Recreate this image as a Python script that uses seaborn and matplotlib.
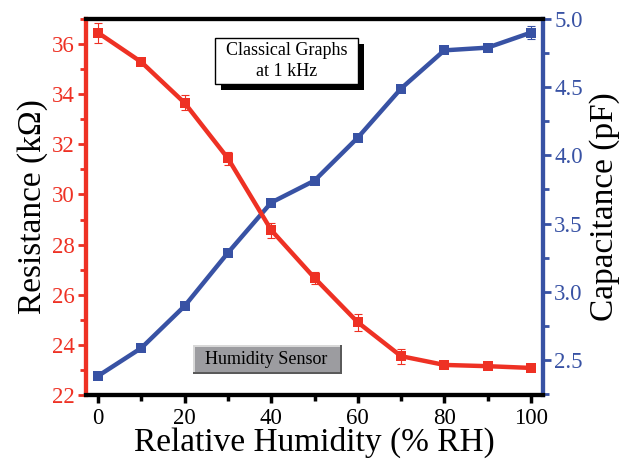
import matplotlib
matplotlib.use("Agg")
import matplotlib.pyplot as plt
import seaborn as sns
import pandas as pd
from matplotlib.patches import Rectangle
from matplotlib.ticker import MultipleLocator

humidity = [0, 10, 20, 30, 40, 50, 60, 70, 80, 90, 100]
resistance = [36.45, 35.28, 33.65, 31.44, 28.58, 26.67, 24.9, 23.55, 23.2, 23.15, 23.08]
resistance_err = [0.4, 0.08, 0.3, 0.25, 0.3, 0.25, 0.35, 0.3, 0.08, 0.08, 0.08]
capacitance = [2.383, 2.588, 2.896, 3.286, 3.654, 3.815, 4.13, 4.49, 4.77, 4.79, 4.9]
capacitance_err = [0.01, 0.01, 0.01, 0.01, 0.01, 0.01, 0.01, 0.01, 0.01, 0.01, 0.05]

RED = "#EE3124"
BLUE = "#3852A4"

sns.set_theme(style="white")
plt.rcParams["font.family"] = ["Liberation Serif", "DejaVu Serif"]
plt.rcParams["mathtext.fontset"] = "stix"

df = pd.DataFrame({"RH": humidity, "R": resistance, "C": capacitance})

fig = plt.figure(figsize=(6.25, 4.62), dpi=100)
ax = fig.add_axes([0.1376, 0.145, 0.8688 - 0.1376, 0.9589 - 0.145])
ax2 = ax.twinx()

sns.lineplot(data=df, x="RH", y="C", ax=ax2, color=BLUE, lw=3.2,
             marker="s", markersize=7, markeredgewidth=0)
ax2.errorbar(humidity, capacitance, yerr=capacitance_err, fmt="none",
             ecolor=BLUE, elinewidth=0.8, capsize=3, capthick=0.8)

sns.lineplot(data=df, x="RH", y="R", ax=ax, color=RED, lw=3.2,
             marker="s", markersize=7, markeredgewidth=0)
ax.errorbar(humidity, resistance, yerr=resistance_err, fmt="none",
            ecolor=RED, elinewidth=0.8, capsize=3, capthick=0.8)

ax.set_zorder(ax2.get_zorder() + 1)
ax.patch.set_visible(False)

ax.set_xlim(-2.8, 102.8)
ax.set_ylim(22, 37)
ax2.set_ylim(2.243, 5.0)

ax.xaxis.set_major_locator(MultipleLocator(20))
ax.xaxis.set_minor_locator(MultipleLocator(10))
ax.yaxis.set_major_locator(MultipleLocator(2))
ax.yaxis.set_minor_locator(MultipleLocator(1))
ax2.yaxis.set_major_locator(MultipleLocator(0.5))
ax2.yaxis.set_minor_locator(MultipleLocator(0.25))
ax2.set_yticks([2.5, 3.0, 3.5, 4.0, 4.5, 5.0])
ax2.set_yticklabels(["2.5", "3.0", "3.5", "4.0", "4.5", "5.0"])

for a in (ax, ax2):
    for s in a.spines.values():
        s.set_linewidth(3)
    a.spines["top"].set_color("black")
    a.spines["bottom"].set_color("black")
    a.spines["left"].set_color(RED)
    a.spines["right"].set_color(BLUE)

ax.tick_params(axis="x", which="major", direction="out", length=6, width=2.5,
               color="black", labelsize=16.5, labelcolor="black", bottom=True, pad=3)
ax.tick_params(axis="x", which="minor", direction="out", length=4, width=2.5,
               color="black", bottom=True)
ax.tick_params(axis="y", which="major", direction="out", length=6, width=2,
               color=RED, labelsize=16.5, labelcolor=RED, left=True, pad=2)
ax.tick_params(axis="y", which="minor", direction="out", length=4, width=2,
               color=RED, left=True)
ax2.tick_params(axis="y", which="major", direction="out", length=6, width=2,
                color=BLUE, labelsize=16.5, labelcolor=BLUE, right=True, pad=2)
ax2.tick_params(axis="y", which="minor", direction="out", length=4, width=2,
                color=BLUE, right=True)

ax.set_xlabel("Relative Humidity (% RH)", fontsize=24, color="black", labelpad=-1)
ax.set_ylabel("Resistance (k\u03a9)", fontsize=24, color="black", labelpad=3)
ax2.set_ylabel("Capacitance (pF)", fontsize=24, color="black", labelpad=5)

# "Classical Graphs" box with drop shadow (pixel positions converted to figure fraction)
W, H = 625, 462
def fig_rect(x0, y0, x1, y1, **kw):
    r = Rectangle((x0 / W, 1 - y1 / H), (x1 - x0) / W, (y1 - y0) / H,
                  transform=fig.transFigure, **kw)
    fig.add_artist(r)
    return r

fig_rect(221, 44, 364, 90, facecolor="black", edgecolor="none", zorder=10)
fig_rect(215, 38, 358, 84, facecolor="white", edgecolor="black", lw=1, zorder=11)
fig.text(286.5 / W, 1 - 61 / H, "Classical Graphs\nat 1 kHz", ha="center", va="center",
         fontsize=13, color="black", zorder=12, linespacing=1.3)

# "Humidity Sensor" bevelled box
fig_rect(193, 345, 342, 374, facecolor="#5a5a5a", edgecolor="none", zorder=10)
fig_rect(193, 345, 340, 372, facecolor="#d8d8d8", edgecolor="none", zorder=10)
fig_rect(195, 347, 340, 372, facecolor="#9c9ca0", edgecolor="none", zorder=11)
fig.text(266.5 / W, 1 - 360 / H, "Humidity Sensor", ha="center", va="center",
         fontsize=13, color="black", zorder=12)

fig.savefig("out.png", dpi=100)
